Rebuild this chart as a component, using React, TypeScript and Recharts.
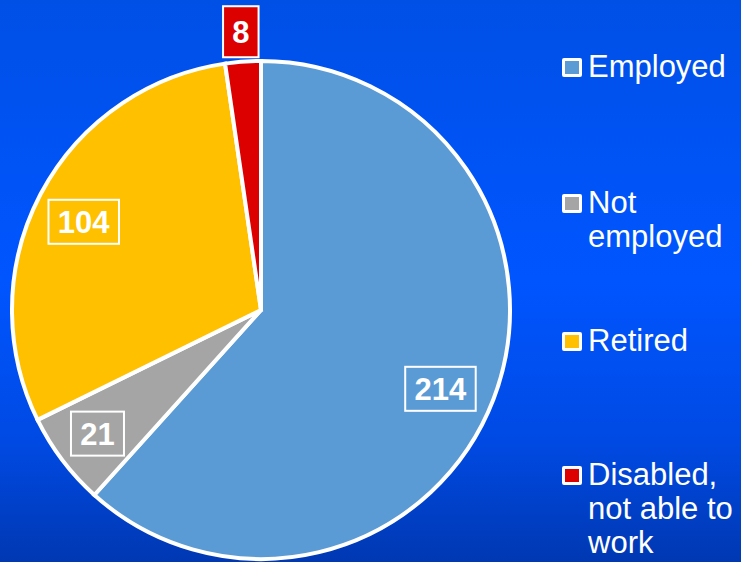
import React from 'react';
import { PieChart, Pie, Cell, Legend } from 'recharts';

const categories = ['Employed', 'Not employed', 'Retired', 'Disabled, not able to work'];
const counts = [214, 21, 104, 8];
const colors = ['#5B9BD5', '#A5A5A5', '#FFC000', '#DD0000'];

const data = categories.map((name, i) => ({ name, value: counts[i] }));

const RAD = Math.PI / 180;
const FONT = '"Liberation Sans", Arial, sans-serif';

// label placement (radius in px, angle offset in degrees) per slice
const labelRadius = [196, 205, 198, 279];
const labelAngleShift = [-2.7, 0, 1.3, 0];

const renderLabel = (props: any) => {
  const { cx, cy, midAngle, value, index } = props;
  const outside = index === 3;
  const r = labelRadius[index];
  const a = (midAngle + labelAngleShift[index]) * RAD;
  const x = cx + r * Math.cos(-a);
  const y = cy + r * Math.sin(-a);
  const txt = String(value);
  const w = txt.length * 17.5 + 18;
  const h = outside ? 51 : 44;
  return (
    <g>
      <rect
        x={x - w / 2}
        y={y - h / 2}
        width={w}
        height={h}
        fill={outside ? colors[3] : 'none'}
        stroke="#FFFFFF"
        strokeWidth={2}
      />
      <text
        x={x}
        y={y + 11}
        textAnchor="middle"
        fill="#FFFFFF"
        fontFamily={FONT}
        fontWeight="bold"
        fontSize={31}
      >
        {txt}
      </text>
    </g>
  );
};

const legendTops = [50, 186, 324, 458];

const LegendContent = () => (
  <div style={{ position: 'relative', width: 181, height: 562 }}>
    {data.map((d, i) => (
      <div
        key={d.name}
        style={{
          position: 'absolute',
          left: 0,
          top: legendTops[i],
          width: 181,
          fontFamily: FONT,
          fontSize: 31,
          lineHeight: '34px',
          color: '#FFFFFF',
        }}
      >
        <div
          style={{
            position: 'absolute',
            left: 2,
            top: 8,
            width: 14,
            height: 13,
            background: colors[i],
            border: '3px solid #FFFFFF',
            borderRadius: 2,
          }}
        />
        <div style={{ marginLeft: 28, width: 153 }}>{d.name}</div>
      </div>
    ))}
  </div>
);

export default function App() {
  return (
    <div
      style={{
        position: 'absolute',
        left: 0,
        top: 0,
        width: 741,
        height: 562,
        overflow: 'hidden',
        background:
          'linear-gradient(180deg, #0050E6 0%, #0055FF 50%, #004AE4 78%, #0038B2 100%)',
      }}
    >
      <PieChart width={741} height={562} margin={{ top: 0, right: 0, bottom: 0, left: 0 }}>
        <Pie
          data={data}
          dataKey="value"
          nameKey="name"
          cx={261}
          cy={310}
          outerRadius={249}
          startAngle={90}
          endAngle={-270}
          stroke="#FFFFFF"
          strokeWidth={4}
          label={renderLabel}
          labelLine={false}
          isAnimationActive={false}
        >
          {data.map((d, i) => (
            <Cell key={d.name} fill={colors[i]} />
          ))}
        </Pie>
        <Legend
          content={<LegendContent />}
          wrapperStyle={{ position: 'absolute', left: 560, top: 0, width: 181, height: 562 }}
        />
      </PieChart>
    </div>
  );
}
